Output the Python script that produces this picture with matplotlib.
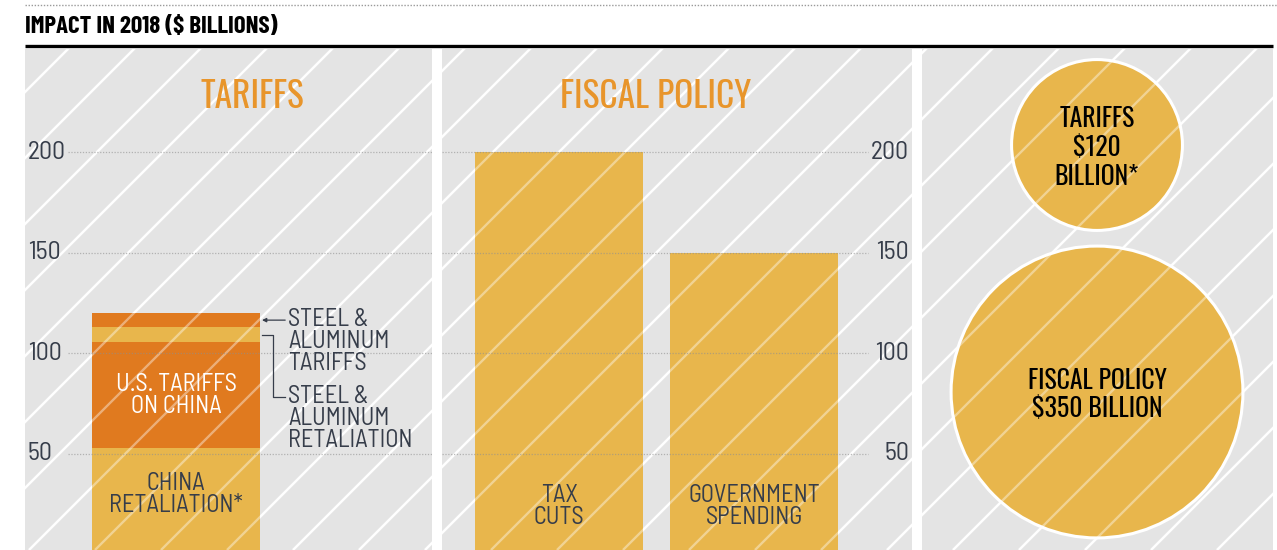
import matplotlib
matplotlib.use("Agg")
import matplotlib.pyplot as plt
import numpy as np
from matplotlib.collections import LineCollection
from matplotlib.patches import Circle

# figure size in pixels (dpi 100)
W, H = 1277, 550

# ---- data ----
tariff_labels = ["CHINA\nRETALIATION*", "U.S. TARIFFS\nON CHINA",
                 "STEEL &\nALUMINUM\nRETALIATION", "STEEL &\nALUMINUM\nTARIFFS"]
tariff_values = [53, 52.5, 7.5, 7]
fiscal_labels = ["TAX\nCUTS", "GOVERNMENT\nSPENDING"]
fiscal_values = [200, 150]
total_labels = ["TARIFFS\n${:.0f}\nBILLION*", "FISCAL POLICY\n${:.0f} BILLION"]
total_values = [sum(tariff_values), sum(fiscal_values)]
y_ticks = [50, 100, 150, 200]

# ---- style ----
GOLD = "#e8b64c"
ORANGE = "#e07a1f"
TITLE_ORANGE = "#e8952b"
GRAY_BG = "#e4e4e4"
TEXT = "#363d4a"
GRID = "#8f8f8f"
YLIM = (2.3, 251.2)
COND = ["Barlow Condensed", "DejaVu Sans"]
SEMI = ["Barlow Semi Condensed", "Barlow Condensed", "DejaVu Sans"]
TALL = ["Oswald", "Barlow Condensed", "DejaVu Sans"]
LS = 0.95

fig = plt.figure(figsize=(W / 100, H / 100), dpi=100)
fig.patch.set_facecolor("white")


def px_box(x0, y0, x1, y1):
    return [x0 / W, 1 - y1 / H, (x1 - x0) / W, (y1 - y0) / H]


def stripes(ax, alpha, zorder):
    # diagonal stripes fixed to the figure: x + y = 51 + 66k in image pixels
    segs = []
    for c in range(51 - 66 * 10, W + H + 66, 66):
        segs.append([(c / W, 1.0), ((c - H) / W, 0.0)])
    lc = LineCollection(segs, colors="white", linewidths=1.7, alpha=alpha,
                        transform=fig.transFigure, zorder=zorder)
    ax.add_collection(lc, autolim=False)


def make_panel(box):
    ax = fig.add_axes(px_box(*box))
    ax.set_facecolor(GRAY_BG)
    for s in ax.spines.values():
        s.set_visible(False)
    ax.set_xticks([])
    ax.set_yticks([])
    stripes(ax, 1.0, 1)
    return ax


# ---- header ----
bg = fig.add_axes([0, 0, 1, 1])
bg.set_xlim(0, W)
bg.set_ylim(H, 0)
bg.axis("off")
bg.plot([25, 1277], [5, 5], color="#9a9a9a", lw=1, ls=(0, (1, 1.2)))
bg.plot([25, 1273], [46, 46], color="black", lw=2.4, solid_capstyle="butt")
bg.text(25, 27, "IMPACT IN 2018 ($ BILLIONS)", fontsize=18, fontweight="bold",
        color="black", ha="left", va="center", family=COND)

# ---- panel 1: tariffs stacked bar ----
ax1 = make_panel((25, 49, 432, 550))
ax1.set_xlim(-0.899, 1.524)
ax1.set_ylim(*YLIM)
seg_colors = [GOLD, ORANGE, GOLD, ORANGE]
bottoms = np.concatenate([[0], np.cumsum(tariff_values)[:-1]])
ax1.bar(0, tariff_values, width=1, bottom=bottoms, color=seg_colors, zorder=2)
stripes(ax1, 0.4, 3)
for t in y_ticks:
    ax1.axhline(t, xmin=0.106, xmax=1, color=GRID, lw=0.9, ls=(0, (1, 1.3)),
                alpha=0.6, zorder=4)
    ax1.text(0.007, t, str(t), transform=ax1.get_yaxis_transform(), ha="left",
             va="center", fontsize=18.5, color=TEXT, zorder=6, family=SEMI)
ax1.text(0.558, 0.905, "TARIFFS", transform=ax1.transAxes, ha="center",
         va="center", fontsize=25.5, color=TITLE_ORANGE, zorder=6, family=TALL)
ax1.text(0, 29.7, tariff_labels[0], ha="center", va="center", fontsize=17.5,
         color=TEXT, linespacing=LS, zorder=6, family=SEMI)
ax1.text(0, bottoms[1] + tariff_values[1] / 2, tariff_labels[1], ha="center",
         va="center", fontsize=17.5, color="white", linespacing=LS, zorder=6,
         family=SEMI)

# callouts for the thin steel & aluminum segments
mid_tar = bottoms[3] + tariff_values[3] / 2
mid_ret = bottoms[2] + tariff_values[2] / 2
ax1.annotate("", xy=(0.512, mid_tar), xytext=(0.65, mid_tar),
             arrowprops=dict(arrowstyle="-|>", color=TEXT, lw=0.9,
                             mutation_scale=6, shrinkA=0, shrinkB=0), zorder=6)
ax1.plot([0.512, 0.577, 0.577, 0.65], [mid_ret, mid_ret, 78.4, 78.4],
         color=TEXT, lw=0.9, zorder=6)
ax1.text(0.667, 105.7, tariff_labels[3], ha="left", va="center", fontsize=17.5,
         color=TEXT, linespacing=LS, zorder=6, family=SEMI)
ax1.text(0.667, 67.7, tariff_labels[2], ha="left", va="center", fontsize=17.5,
         color=TEXT, linespacing=LS, zorder=6, family=SEMI)

# ---- panel 2: fiscal policy bars ----
ax2 = make_panel((442, 49, 912, 550))
ax2.set_xlim(-0.6, 1.81)
ax2.set_ylim(*YLIM)
xpos = np.arange(len(fiscal_values))
ax2.bar(xpos, fiscal_values, width=0.862, color=GOLD, zorder=2)
stripes(ax2, 0.4, 3)
for t in y_ticks:
    ax2.axhline(t, xmin=0, xmax=0.906, color=GRID, lw=0.9, ls=(0, (1, 1.3)),
                alpha=0.6, zorder=4)
    ax2.text(0.994, t, str(t), transform=ax2.get_yaxis_transform(), ha="right",
             va="center", fontsize=18.5, color=TEXT, zorder=6, family=SEMI)
ax2.text(0.455, 0.905, "FISCAL POLICY", transform=ax2.transAxes, ha="center",
         va="center", fontsize=25.5, color=TITLE_ORANGE, zorder=6, family=TALL)
for x, lab in zip(xpos, fiscal_labels):
    ax2.text(x, 23.7, lab, ha="center", va="center", fontsize=17.5, color=TEXT,
             linespacing=LS, zorder=6, family=SEMI)

# ---- panel 3: totals as circles (area ~ value) ----
ax3 = make_panel((922, 49, 1273, 550))
ax3.set_xlim(0, 351)
ax3.set_ylim(501, 0)
k = 7.8
centers = [(175, 96), (175, 343)]
for (cx, cy), val, lab in zip(centers, total_values, total_labels):
    ax3.add_patch(Circle((cx, cy), k * np.sqrt(val), facecolor=GOLD,
                         edgecolor="white", lw=2.2, zorder=2))
    ax3.text(cx, cy + 3, lab.format(val), ha="center", va="center",
             fontsize=18.5, fontweight="semibold", color="black",
             linespacing=1.12, zorder=6, family=TALL)
stripes(ax3, 0.4, 3)

fig.savefig("out.png", dpi=100, facecolor="white")
